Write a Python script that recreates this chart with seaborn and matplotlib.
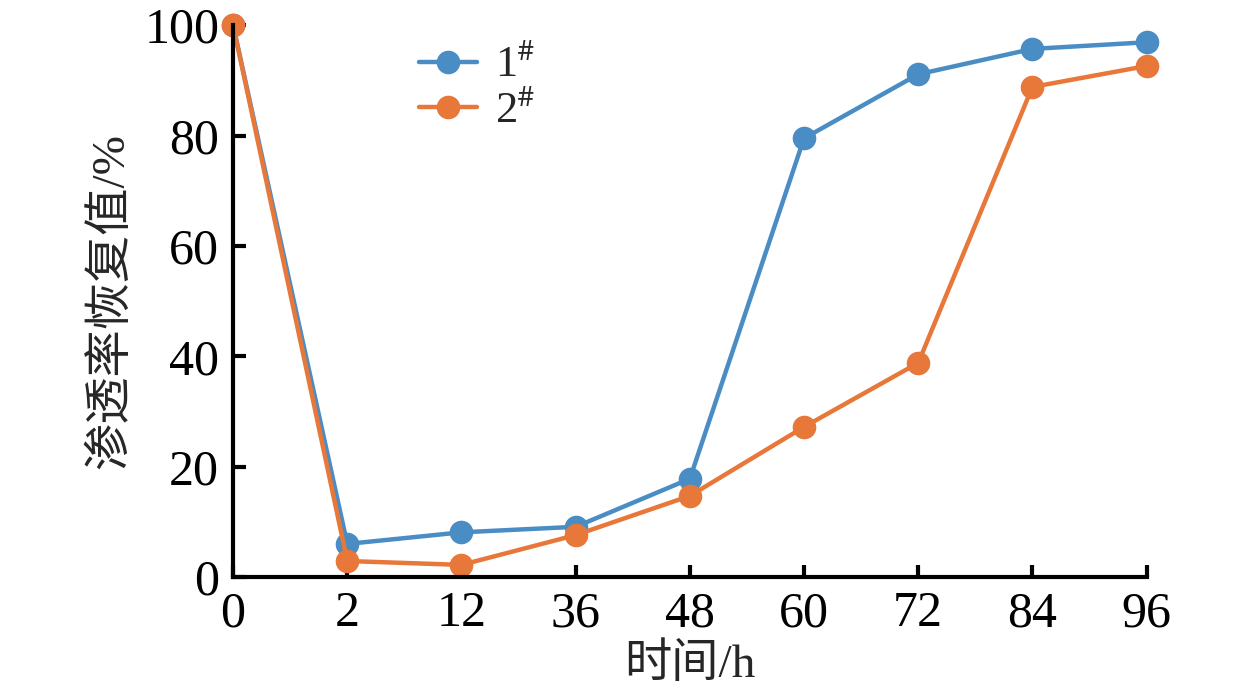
import numpy as np
import pandas as pd
import matplotlib
matplotlib.use("Agg")
import matplotlib.pyplot as plt
import seaborn as sns

# data
hours = ["0", "2", "12", "36", "48", "60", "72", "84", "96"]
sample_1 = [100, 6.0, 8.1, 9.1, 17.8, 79.5, 91.1, 95.7, 96.9]
sample_2 = [100, 2.9, 2.2, 7.6, 14.7, 27.2, 38.8, 88.8, 92.6]
series_names = ["1$^{\\#}$", "2$^{\\#}$"]
colors = ["#4a8cc4", "#e8773a"]

df = pd.DataFrame({
    "pos": list(range(len(hours))) * 2,
    "val": sample_1 + sample_2,
    "series": [series_names[0]] * len(hours) + [series_names[1]] * len(hours),
})

sns.set_style("ticks")
plt.rcParams["font.family"] = ["Liberation Serif", "Noto Sans CJK SC"]
plt.rcParams["mathtext.fontset"] = "stix"

fig = plt.figure(figsize=(12.6, 6.99), dpi=100)
ax = fig.add_axes([0.185, 0.1745, 0.725, 0.7895])

sns.lineplot(data=df, x="pos", y="val", hue="series", palette=colors,
             marker="o", markersize=17, markeredgewidth=0, linewidth=3.2,
             ax=ax, legend=True)

ax.set_xlim(0, len(hours) - 1)
ax.set_ylim(0, 100)
ax.set_xticks(range(len(hours)))
ax.set_xticklabels(hours)
ax.set_yticks([0, 20, 40, 60, 80, 100])
ax.tick_params(direction="in", length=9, width=3, labelsize=36, colors="black", pad=10)
for s in ["top", "right"]:
    ax.spines[s].set_visible(False)
for s in ["left", "bottom"]:
    ax.spines[s].set_linewidth(3)
    ax.spines[s].set_color("black")
for line in ax.lines:
    line.set_clip_on(False)

ax.set_xlabel("时间/h", fontsize=34, labelpad=4)
ax.set_ylabel("渗透率恢复值/%", fontsize=34, labelpad=8)

leg = ax.legend(loc="upper left", bbox_to_anchor=(0.16, 1.035), frameon=False,
                fontsize=32, handlelength=1.3, labelspacing=0.12, handletextpad=0.4)
for h in leg.legend_handles:
    h.set_markersize(17)
    h.set_linewidth(3.2)

fig.savefig("out.png", dpi=100)
